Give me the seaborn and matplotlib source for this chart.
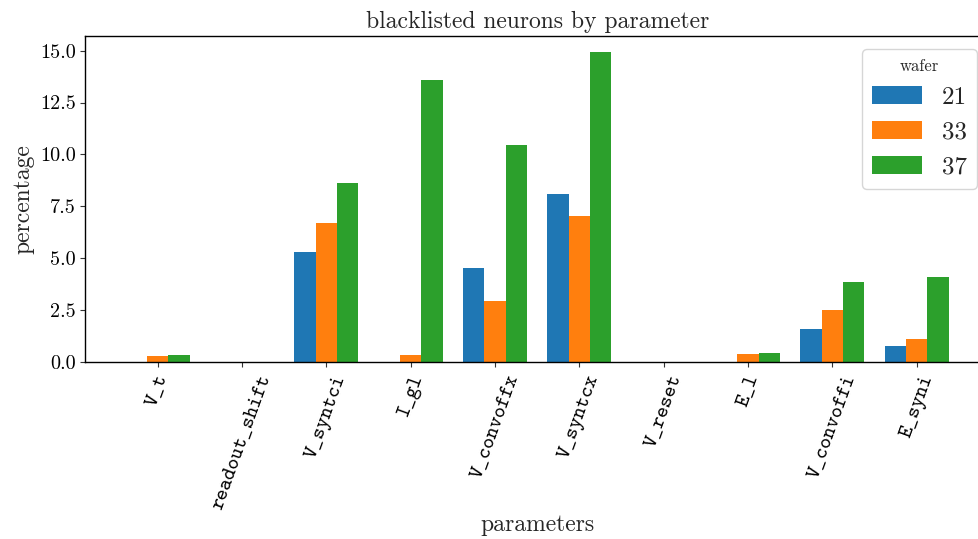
import matplotlib
matplotlib.use("Agg")
import matplotlib.pyplot as plt
import seaborn as sns
import pandas as pd

parameters = ["V_t", "readout_shift", "V_syntci", "I_gl", "V_convoffx",
              "V_syntcx", "V_reset", "E_l", "V_convoffi", "E_syni"]
wafers = ["21", "33", "37"]
wafer_21 = [0.02, 0.02, 5.30, 0.02, 4.53, 8.09, 0.02, 0.02, 1.60, 0.78]
wafer_33 = [0.30, 0.02, 6.70, 0.35, 2.95, 7.03, 0.02, 0.40, 2.51, 1.12]
wafer_37 = [0.35, 0.02, 8.62, 13.57, 10.45, 14.92, 0.02, 0.45, 3.86, 4.10]
colors = ["#1f77b4", "#ff7f0e", "#2ca02c"]

rows = []
for w, vals in zip(wafers, [wafer_21, wafer_33, wafer_37]):
    for p, v in zip(parameters, vals):
        rows.append({"parameters": p, "wafer": w, "percentage": v})
df = pd.DataFrame(rows)

sns.set_style("ticks")
plt.rcParams["font.family"] = ["cmr10", "DejaVu Serif"]
plt.rcParams["mathtext.fontset"] = "cm"
plt.rcParams["axes.formatter.use_mathtext"] = True
plt.rcParams["axes.edgecolor"] = "black"
plt.rcParams["xtick.color"] = "#333333"
plt.rcParams["ytick.color"] = "#333333"
plt.rcParams["xtick.labelcolor"] = "black"
plt.rcParams["ytick.labelcolor"] = "black"

fig = plt.figure(figsize=(9.79, 5.39), dpi=100)
ax = fig.add_axes([85.3 / 979, 1 - 362.3 / 539, (989.2 - 85.3) / 979, (362.3 - 36) / 539])

sns.barplot(data=df, x="parameters", y="percentage", hue="wafer",
            order=parameters, hue_order=wafers, palette=colors,
            width=0.76, saturation=1, linewidth=0, ax=ax)

ax.set_xlim(-0.859, len(parameters) - 1 + 0.859)
ax.set_ylim(0, 15.7)
ax.set_yticks([0, 2.5, 5, 7.5, 10, 12.5, 15])
ax.set_yticklabels(["0.0", "2.5", "5.0", "7.5", "10.0", "12.5", "15.0"], fontsize=14.5)
ax.set_xticks(range(len(parameters)))
ax.set_xticklabels(parameters, rotation=70, ha="center",
                   fontsize=15, family=["cmtt10", "DejaVu Sans Mono"])
for s in ax.spines.values():
    s.set_visible(True)
    s.set_color("black")
    s.set_linewidth(1.0)

ax.set_title("blacklisted neurons by parameter", fontsize=17)
ax.set_xlabel("parameters", fontsize=17, labelpad=1.5)
ax.set_ylabel("percentage", fontsize=17)

leg = ax.legend(title="wafer", loc="upper right", fontsize=18, title_fontsize=12,
                frameon=True)
leg.get_frame().set_edgecolor("#cccccc")

fig.savefig("out.png", dpi=100)
